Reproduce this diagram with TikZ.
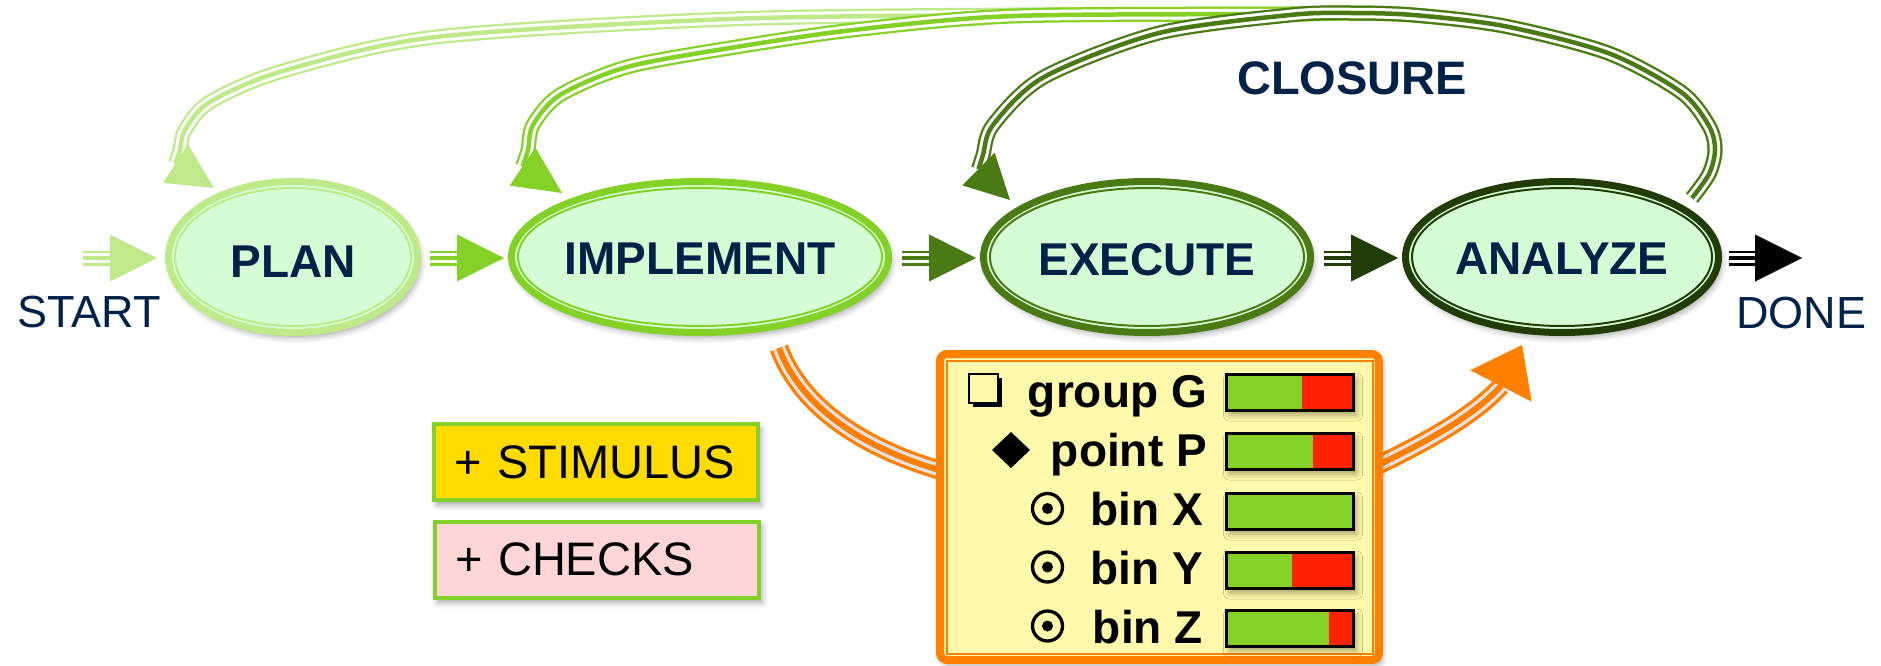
\documentclass[tikz,border=0pt]{standalone}
\usepackage{fontspec}
\setmainfont{Liberation Sans}
\usetikzlibrary{shapes.geometric,calc,shadows.blur}

\definecolor{navy}{HTML}{002248}
\definecolor{gLight}{HTML}{BFEA8A}
\definecolor{gBright}{HTML}{84D228}
\definecolor{gDark}{HTML}{4A7A14}
\definecolor{gDeep}{HTML}{213C05}
\definecolor{mint}{HTML}{D6FCD6}
\definecolor{orangeC}{HTML}{FF8000}
\definecolor{gapgray}{HTML}{E2E2E2}
\definecolor{paleyellow}{HTML}{FFFAAB}
\definecolor{gold}{HTML}{FFDB00}
\definecolor{pinkC}{HTML}{FFD6D6}
\definecolor{barred}{HTML}{FF2200}

\tikzset{
  triple/.style={draw=#1, line width=15pt,
    postaction={draw=white, line width=10.5pt},
    postaction={draw=#1, line width=4.5pt}},
  otriple/.style={draw=orangeC, line width=19pt,
    postaction={draw=gapgray, line width=12.5pt},
    postaction={draw=orangeC, line width=6pt}},
  softshadow/.style={blur shadow={shadow xshift=3pt, shadow yshift=-5pt,
    shadow blur radius=6pt, shadow opacity=35}},
  stage/.style={ellipse, draw=#1, line width=7pt, fill=mint, inner sep=0pt,
    minimum height=151pt, softshadow},
  stagetext/.style={font=\bfseries\fontsize{46}{46}\selectfont, text=navy, inner sep=0pt},
  endtext/.style={font=\fontsize{45}{45}\selectfont, text=navy, inner sep=0pt},
  tagbox/.style={draw=gBright, line width=4pt, minimum height=76pt, text width=284pt,
    inner xsep=20pt, inner ysep=0pt, align=left, anchor=west,
    font=\fontsize{47}{47}\selectfont, softshadow},
  rowtext/.style={font=\bfseries\fontsize{46}{46}\selectfont, anchor=base east, inner sep=0pt},
}

% arrow head: colour, base centre, tip, half width
\newcommand\headtri[4]{%
  \fill[#1] (#3) -- ($(#2)!#4!90:(#3)$) -- ($(#2)!#4!-90:(#3)$) -- cycle;}
% straight flow arrow: colour, start, tip
\newcommand\hflow[3]{%
  \draw[triple=#1] (#2) -- ($(#3)+(-47,0)$);
  \fill[#1] (#3) -- ($(#3)+(-47,-23.5)$) -- ($(#3)+(-47,23.5)$) -- cycle;}
% coverage bar: name, centre y, split x
\newcommand\covbar[3]{%
  \node[fill=gBright, minimum width=127pt, minimum height=36pt, inner sep=0pt,
        outer sep=0pt, softshadow] (#1) at (1290,#2) {};
  \fill[barred] (#3,#2-18) rectangle (1353.5,#2+18);
  \draw[line width=3pt] (#1.north west) rectangle (#1.south east);}

% shared route of the feedback loops leaving ANALYZE
\def\looptrunk{(1692,198) (1709,174) (1715,150) (1709,126) (1681,92) (1608,53)
  (1504,26) (1413,15) (1348,13)}

\begin{document}
\begin{tikzpicture}[x=1pt,y=-1pt]
\useasboundingbox (0,0) rectangle (1881,666);

% ---- process stages ----
\node[stage=gLight,  minimum width=249pt] (plan)    at (293,257) {};
\node[stage=gBright, minimum width=377pt] (impl)    at (700,257) {};
\node[stage=gDark,   minimum width=327pt] (exec)    at (1147,257) {};
\node[stage=gDeep,   minimum width=313pt] (analyze) at (1562,257) {};
\draw[gLight,  line width=2pt] (plan)    ellipse [x radius=118pt, y radius=69pt];
\draw[gBright, line width=2pt] (impl)    ellipse [x radius=182pt, y radius=69pt];
\draw[gDark,   line width=2pt] (exec)    ellipse [x radius=157pt, y radius=69pt];
\draw[gDeep,   line width=2pt] (analyze) ellipse [x radius=150pt, y radius=69pt];
\node[stagetext] at ($(plan)+(0,5)$)    {PLAN};
\node[stagetext] at ($(impl)+(0,2)$)    {IMPLEMENT};
\node[stagetext] at ($(exec)+(0,3)$)    {EXECUTE};
\node[stagetext] at ($(analyze)+(0,2)$) {ANALYZE};

\node[endtext] (start) at (89,312)  {START};
\node[endtext] (done)  at (1801,313) {DONE};
\node[font=\bfseries\fontsize{47}{47}\selectfont, text=navy, inner sep=0pt] (closure) at (1352,78) {CLOSURE};

% ---- forward flow ----
\coordinate (in0)  at (83,258);
\coordinate (in0t) at (157,258);
\coordinate (c1s) at ($(plan.east)+(9,1)$);
\coordinate (c1t) at ($(impl.west)+(-4,1)$);
\coordinate (c2s) at ($(impl.east)+(10,1)$);
\coordinate (c2t) at ($(exec.west)+(-4,1)$);
\coordinate (c3s) at ($(exec.east)+(10,1)$);
\coordinate (c3t) at ($(analyze.west)+(-4,1)$);
\coordinate (c4s) at ($(analyze.east)+(7,1)$);
\coordinate (out) at (1802,258);
\hflow{gLight}{in0}{in0t}
\hflow{gBright}{c1s}{c1t}
\hflow{gDark}{c2s}{c2t}
\hflow{gDeep}{c3s}{c3t}
\hflow{black}{c4s}{out}

% ---- feedback loops from ANALYZE ----
\coordinate (fbL) at (175.5,163.5);  \coordinate (fbLt) at (214,188);
\coordinate (fbB) at (522.5,166.5);  \coordinate (fbBt) at (562,193);
\coordinate (fbD) at (978.5,169);    \coordinate (fbDt) at (1010,200);
\draw[triple=gLight] plot[smooth] coordinates {\looptrunk (1290,14) (1014,15)
  (730,19) (436,37) (283,71) (210,102) (185,130) (180,150) (fbL)};
\headtri{gLight}{fbL}{fbLt}{23pt}
\draw[triple=gBright] plot[smooth] coordinates {\looptrunk (1290,14) (1014,16)
  (853,30) (730,48) (627,67) (560,95) (533,125) (528,150) (fbB)};
\headtri{gBright}{fbB}{fbBt}{23pt}
\draw[triple=gDark] plot[smooth] coordinates {\looptrunk (1290,15) (1159,33)
  (1044,77) (993,125) (983,155) (fbD)};
\headtri{gDark}{fbD}{fbDt}{23pt}

% ---- coverage feed ----
\coordinate (covIn)  at (779,348);
\coordinate (covOut) at (1501,386);
\coordinate (covTip) at (1522,345);
\draw[otriple] (covIn) .. controls (800,405) and (860,448) .. (946,472);
\draw[otriple] (1372,468) .. controls (1420,445) and (1472,418) .. (covOut);
\headtri{orangeC}{covOut}{covTip}{34.5pt}

% ---- test additions ----
\node[tagbox, fill=gold]  (stim)   at (432,462) {+ STIMULUS};
\node[tagbox, fill=pinkC] (checks) at (433,559.5) {+ CHECKS};

% ---- coverage report ----
\node[draw=orangeC, line width=8pt, fill=paleyellow, rounded corners=7pt,
      minimum width=439pt, minimum height=306pt, inner sep=0pt, softshadow]
      (legend) at (1159.5,507) {};
\draw[orangeC, line width=2pt] (946.5,360.5) rectangle (1372.5,653.5);

% rows
\fill (973,378) rectangle (1002,407);
\draw[line width=2.5pt, fill=paleyellow] (969,374) rectangle (998,403);
\fill (1011,432) -- (1030,450) -- (1011,468) -- (992,450) -- cycle;
\foreach \cy in {508.5,567,626}{
  \draw[line width=3.3pt] (1047.5,\cy) circle [radius=15pt];
  \fill (1047.5,\cy) circle [radius=5.5pt];}
\node[rowtext] (rG) at (1207,407) {group G};
\node[rowtext] (rP) at (1207,466) {point P};
\node[rowtext] (rX) at (1203,525) {bin X};
\node[rowtext] (rY) at (1203,584) {bin Y};
\node[rowtext] (rZ) at (1203,643) {bin Z};
\covbar{barG}{392}{1302}
\covbar{barP}{451}{1313}
\covbar{barX}{511}{1353.5}
\covbar{barY}{570}{1292}
\covbar{barZ}{628}{1329}
\end{tikzpicture}
\end{document}
